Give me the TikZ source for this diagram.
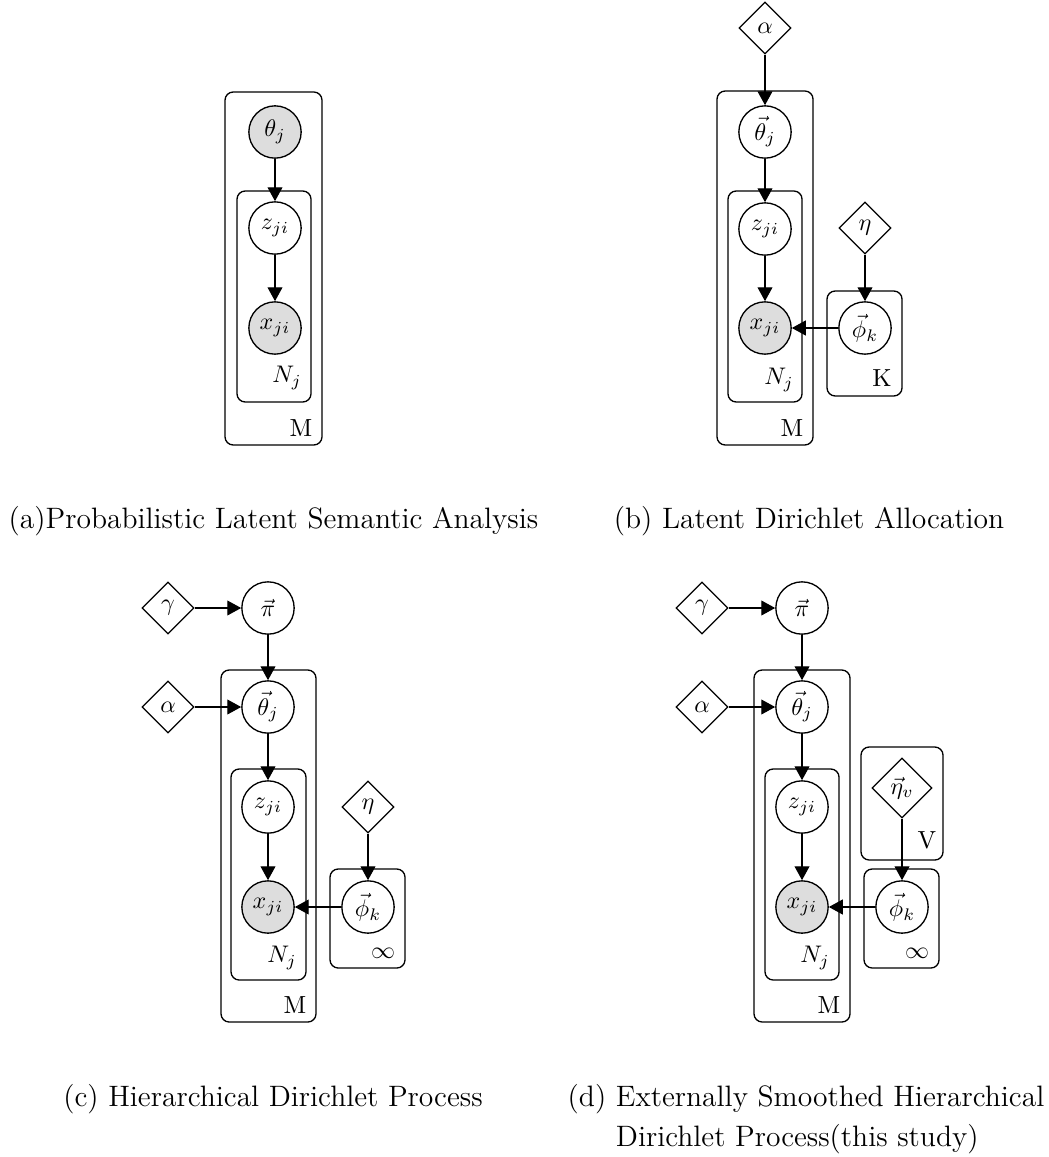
\documentclass[tikz,border=0pt]{standalone}
\usetikzlibrary{shapes.geometric,arrows.meta,fit}
\definecolor{obsgray}{RGB}{221,221,221}
\begin{document}
\begin{tikzpicture}[x=0.4167pt,y=-0.4167pt,
  every node/.style={font=\fontsize{10.3}{12}\selectfont},
  var/.style={circle,draw,line width=0.55pt,minimum size=21.8pt,inner sep=0pt,fill=white},
  obs/.style={var,fill=obsgray},
  hyper/.style={diamond,draw,line width=0.55pt,minimum size=21.7pt,inner sep=0pt,fill=white},
  plate/.style={draw,line width=0.55pt,rounded corners=3.4pt,inner sep=0pt},
  edge/.style={-{Triangle[length=5.8pt,width=6.2pt]},line width=0.55pt},
  captext/.style={font=\fontsize{12.3}{14.8}\selectfont}]
\fill[white] (0,0) rectangle (1048,1157);
\useasboundingbox (0,0) rectangle (1048,1157);

% ---------- (a) PLSA ----------
\node[plate,fit={(225,92) (322,445)}] (Ma) {};
\node[plate,fit={(237,191) (311,402)}] (Na) {};
\node[obs] (tha) at (275,132) {$\theta_j$};
\node[var] (za) at (275,228) {$z_{ji}$};
\node[obs] (xa) at (275,328) {$x_{ji}$};
\node (NLa) at (287,378) {$N_j$};
\node (MLa) at (301,428) {M};
\draw[edge] (tha) -- (za);
\draw[edge] (za) -- (xa);

% ---------- (b) LDA ----------
\node[plate,fit={(717,91) (813,445)}] (Mb) {};
\node[plate,fit={(728,191) (802,402)}] (Nb) {};
\node[plate,fit={(827,291) (902,396)}] (Kb) {};
\node[hyper] (alb) at (765,28) {$\alpha$};
\node[var] (thb) at (765,132) {$\vec{\theta}_j$};
\node[var] (zb) at (765,229) {$z_{ji}$};
\node[obs] (xb) at (765,328) {$x_{ji}$};
\node[hyper] (etb) at (865,228) {$\eta$};
\node[var] (phb) at (865,328) {$\vec{\phi}_k$};
\node (NLb) at (779,380) {$N_j$};
\node (MLb) at (792,428) {M};
\node (KLb) at (882,378) {K};
\draw[edge] (alb) -- (thb);
\draw[edge] (thb) -- (zb);
\draw[edge] (zb) -- (xb);
\draw[edge] (etb) -- (phb);
\draw[edge] (phb) -- (xb);

% ---------- (c) HDP ----------
\node[plate,fit={(221,670) (316,1022)}] (Mc) {};
\node[plate,fit={(231,769) (306,980)}] (Nc) {};
\node[plate,fit={(330,869) (405,968)}] (Ic) {};
\node[hyper] (gac) at (168,608) {$\gamma$};
\node[var] (pic) at (268,608) {$\vec{\pi}$};
\node[hyper] (alc) at (168,707) {$\alpha$};
\node[var] (thc) at (268,707) {$\vec{\theta}_j$};
\node[var] (zc) at (268,807) {$z_{ji}$};
\node[obs] (xc) at (268,907) {$x_{ji}$};
\node[hyper] (etac) at (368,807) {$\eta$};
\node[var] (phc) at (368,907) {$\vec{\phi}_k$};
\node (NLc) at (282,958) {$N_j$};
\node (MLc) at (295,1005) {M};
\node (ILc) at (383,953) {$\infty$};
\draw[edge] (gac) -- (pic);
\draw[edge] (pic) -- (thc);
\draw[edge] (alc) -- (thc);
\draw[edge] (thc) -- (zc);
\draw[edge] (zc) -- (xc);
\draw[edge] (etac) -- (phc);
\draw[edge] (phc) -- (xc);

% ---------- (d) ES-HDP ----------
\node[plate,fit={(754,670) (850,1022)}] (Md) {};
\node[plate,fit={(765,769) (839,980)}] (Nd) {};
\node[plate,fit={(861,747) (943,860)}] (Vd) {};
\node[plate,fit={(864,869) (939,968)}] (Id) {};
\node[hyper] (gad) at (702,608) {$\gamma$};
\node[var] (pid) at (802,608) {$\vec{\pi}$};
\node[hyper] (ald) at (702,707) {$\alpha$};
\node[var] (thd) at (802,707) {$\vec{\theta}_j$};
\node[var] (zd) at (802,807) {$z_{ji}$};
\node[obs] (xd) at (802,907) {$x_{ji}$};
\node[hyper,minimum size=25pt] (etd) at (902,788) {$\vec{\eta}_v$};
\node[var] (phd) at (902,907) {$\vec{\phi}_k$};
\node (NLd) at (815,958) {$N_j$};
\node (MLd) at (829,1005) {M};
\node (ILd) at (917,953) {$\infty$};
\node (VLd) at (927,840) {V};
\draw[edge] (gad) -- (pid);
\draw[edge] (pid) -- (thd);
\draw[edge] (ald) -- (thd);
\draw[edge] (thd) -- (zd);
\draw[edge] (zd) -- (xd);
\draw[edge] (etd) -- (phd);
\draw[edge] (phd) -- (xd);

% ---------- captions ----------
\node[captext] (capa) at (273.5,521) {(a)Probabilistic Latent Semantic Analysis};
\node[captext] (capb) at (809,521) {(b) Latent Dirichlet Allocation};
\node[captext] (capc) at (273,1099) {(c) Hierarchical Dirichlet Process};
\node[captext] (capd) at (806,1099) {(d) Externally Smoothed Hierarchical};
\node[captext,anchor=base west] (capd2) at ([yshift=-16.67pt]capd.base west) {\phantom{(d) }Dirichlet Process(this study)};
\end{tikzpicture}
\end{document}
